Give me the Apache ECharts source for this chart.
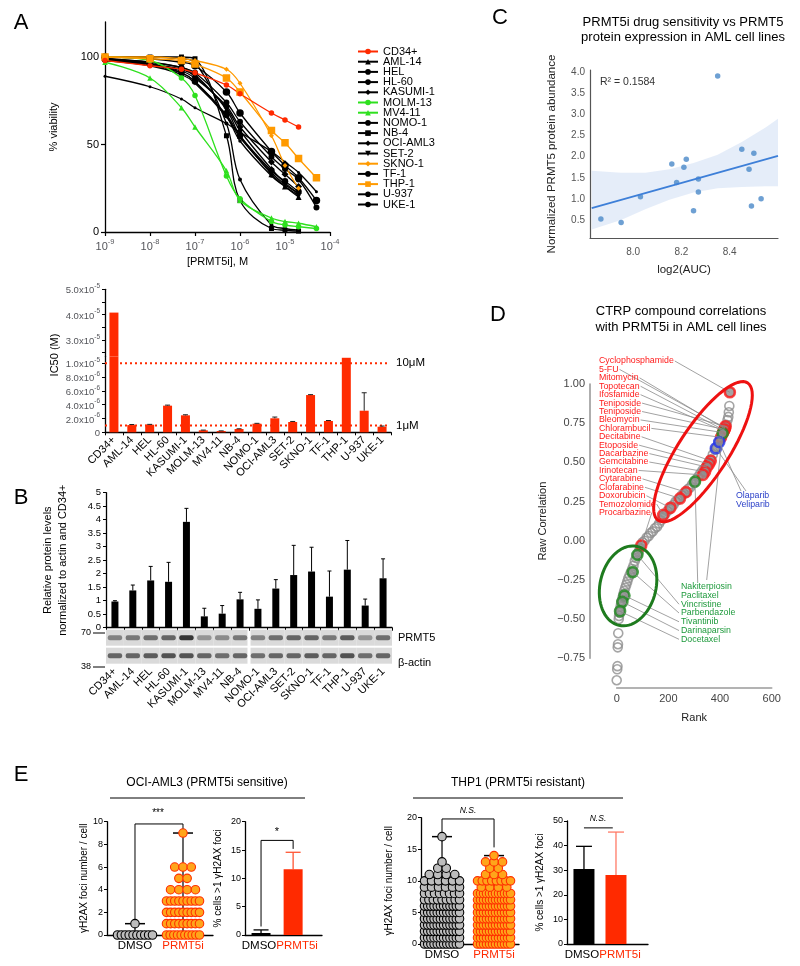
<!DOCTYPE html>
<html>
<head>
<meta charset="utf-8">
<script src="https://cdn.jsdelivr.net/npm/echarts@6.0.0/dist/echarts.min.js"></script>
<style>
html,body{margin:0;padding:0;background:#fff;}
#chart{width:800px;height:966px;}
</style>
</head>
<body>
<div id="chart"></div>
<script>
const FONT = '"Liberation Sans", Arial, sans-serif';

// ---------------- Panel A : dose response ----------------
const concentrations = [1e-9, 1e-8, 5e-8, 1e-7, 5e-7, 1e-6, 5e-6, 1e-5, 2e-5, 5e-5];
const viabilityCD34 = [98, 95, 93, 91, 84, 79, 68, 64, 60];
const viabilityAML14 = [99, 97, 94, 90, 70, 55, 33, 26, 20];
const viabilityHEL = [89, 83, 76, 71, 62, 57, 46, 40, 34, 23];
const viabilityHL60 = [100, 99, 97, 95, 80, 68, 46, 38, 31, 18];
const viabilityKASUMI1 = [98, 96, 92, 88, 72, 60, 40, 33, 26];
const viabilityMOLM13 = [100, 98, 88, 78, 32, 19, 6, 4, 3, 2];
const viabilityMV411 = [97, 88, 71, 60, 35, 18, 8, 6, 5, 3];
const viabilityNOMO1 = [99, 96, 91, 86, 66, 52, 32, 26, 21];
const viabilityNB4 = [100, 100, 100, 99, 55, 18, 2, 1, 0.5];
const viabilityOCIAML3 = [98, 96, 93, 89, 71, 58, 36, 28, 22];
const viabilitySET2 = [98, 95, 90, 85, 66, 54, 34, 27, 22];
const viabilitySKNO1 = [100, 100, 99, 98, 93, 85, 55, 38, 25];
const viabilityTF1 = [99, 96, 91, 86, 67, 55, 35, 29, 23];
const viabilityTHP1 = [100, 99, 98, 96, 88, 80, 58, 51, 42, 31];
const viabilityU937 = [99, 97, 94, 91, 74, 63, 43, 36, 30, 14];
const viabilityUKE1 = [100, 100, 99, 97, 62, 30, 4, 2, 1];
const legendOrder = ['CD34+','AML-14','HEL','HL-60','KASUMI-1','MOLM-13','MV4-11','NOMO-1','NB-4','OCI-AML3','SET-2','SKNO-1','TF-1','THP-1','U-937','UKE-1'];

// ---------------- Panel A : IC50 bars ----------------
const cellLines = ['CD34+','AML-14','HEL','HL-60','KASUMI-1','MOLM-13','MV4-11','NB-4','NOMO-1','OCI-AML3','SET-2','SKNO-1','TF-1','THP-1','U-937','UKE-1'];
const ic50Values = [4.08e-5, 1.05e-6, 1.1e-6, 3.86e-6, 2.46e-6, 0.29e-6, 0.19e-6, 0.48e-6, 1.25e-6, 2.03e-6, 1.49e-6, 5.4e-6, 1.64e-6, 1.08e-5, 3.13e-6, 0.81e-6];
const ic50Err = [0, 0.08e-6, 0.05e-6, 0.08e-6, 0.08e-6, 0.03e-6, 0.02e-6, 0.03e-6, 0.05e-6, 0.18e-6, 0.08e-6, 0.06e-6, 0.07e-6, 0, 2.6e-6, 0.1e-6];
const ic50Thresholds = [1e-5, 1e-6];
const ic50ThresholdLabels = ['10μM', '1μM'];
const ic50TopTicks = [2.5e-5, 3e-5, 3.5e-5, 4e-5, 4.5e-5, 5e-5];
const ic50TopLabels = [3e-5, 4e-5, 5e-5];
const ic50BottomTicks = [0, 2e-6, 4e-6, 6e-6, 8e-6, 1e-5];

// ---------------- Panel B ----------------
const proteinLevel = [0.97, 1.38, 1.75, 1.70, 3.92, 0.42, 0.52, 1.05, 0.70, 1.45, 1.95, 2.08, 1.15, 2.15, 0.82, 1.83];
const proteinErr = [0.03, 0.20, 0.52, 0.72, 0.50, 0.30, 0.30, 0.26, 0.33, 0.33, 1.10, 0.90, 0.95, 1.08, 0.24, 0.72];
const prmt5Band = [0.45, 0.5, 0.55, 0.6, 0.85, 0.35, 0.4, 0.5, 0.45, 0.55, 0.6, 0.6, 0.5, 0.65, 0.35, 0.55];
const actinBand = [0.6, 0.6, 0.65, 0.7, 0.7, 0.6, 0.55, 0.6, 0.55, 0.6, 0.6, 0.65, 0.6, 0.7, 0.55, 0.6];

// ---------------- Panel C ----------------
const log2AUC = [7.866, 7.95, 8.03, 8.16, 8.18, 8.21, 8.22, 8.25, 8.27, 8.27, 8.35, 8.45, 8.48, 8.49, 8.50, 8.53];
const prmt5Abundance = [0.52, 0.44, 1.05, 1.83, 1.39, 1.75, 1.94, 0.72, 1.16, 1.47, 3.92, 2.18, 1.70, 0.83, 2.08, 1.00];
const fitX = [7.828, 8.60];
const fitY = [0.78, 2.02];
const ciX = [7.828, 7.95, 8.05, 8.15, 8.25, 8.35, 8.45, 8.55, 8.60];
const ciUpper = [1.67, 1.62, 1.62, 1.70, 1.85, 2.05, 2.35, 2.70, 2.90];
const ciLower = [0.27, 0.50, 0.75, 0.98, 1.15, 1.25, 1.28, 1.30, 1.30];
const cYTicks = [0.5, 1.0, 1.5, 2.0, 2.5, 3.0, 3.5, 4.0];
const cXTicks = [8.0, 8.2, 8.4];

// ---------------- Panel D ----------------
const grayRank = [0,2,3,4,5,6,8,9,11,13,15,17,20,23,26,29,33,37,41,45,50,55,60,65,70,75,80,85,90,95,100,108,116,124,132,140,148,156,164,172,180,188,196,204,212,220,228,236,244,252,260,268,276,284,292,300,308,316,324,332,340,348,356,364,372,380,388,396,402,408,414,420,425,429,432,434,436,438];
const grayCorr = [-0.89,-0.82,-0.80,-0.68,-0.66,-0.59,-0.50,-0.48,-0.46,-0.44,-0.42,-0.40,-0.38,-0.36,-0.34,-0.32,-0.30,-0.28,-0.26,-0.24,-0.22,-0.20,-0.18,-0.16,-0.13,-0.11,-0.09,-0.07,-0.05,-0.03,-0.01,0.00,0.02,0.03,0.05,0.06,0.08,0.09,0.11,0.13,0.15,0.17,0.19,0.20,0.22,0.23,0.25,0.26,0.27,0.29,0.30,0.31,0.33,0.34,0.36,0.37,0.39,0.41,0.43,0.45,0.46,0.48,0.50,0.52,0.55,0.58,0.60,0.63,0.65,0.67,0.70,0.72,0.74,0.77,0.79,0.82,0.86,0.947];
const redHitNames = ['Cyclophosphamide','5-FU','Mitomycin','Topotecan','Ifosfamide','Teniposide','Teniposide','Bleomycin','Chlorambucil','Decitabine','Etoposide','Dacarbazine','Gemcitabine','Irinotecan','Cytarabine','Clofarabine','Doxorubicin','Temozolomide','Procarbazine'];
const redHitRanks = [438, 420, 418, 416, 414, 421, 417, 412, 404, 364, 358, 350, 342, 334, 268, 245, 208, 180, 95];
const redHitCorrs = [0.947, 0.72, 0.715, 0.705, 0.70, 0.73, 0.71, 0.69, 0.66, 0.51, 0.49, 0.47, 0.44, 0.42, 0.31, 0.27, 0.21, 0.165, -0.03];
const greenHitNames = ['Nakiterpiosin','Paclitaxel','Vincristine','Parbendazole','Tivantinib','Darinaparsin','Docetaxel'];
const greenHitRanks = [410, 303, 80, 62, 30, 22, 13];
const greenHitCorrs = [0.685, 0.377, -0.09, -0.20, -0.35, -0.39, -0.45];
const blueHitNames = ['Olaparib','Veliparib'];
const blueHitRanks = [384, 397];
const blueHitCorrs = [0.59, 0.63];

// ---------------- Panel E ----------------
const ociDmsoFociValues = [0, 1];
const ociDmsoFociCounts = [10, 1];
const ociPrmtFociValues = [0, 1, 2, 3, 4, 5, 6, 9];
const ociPrmtFociCounts = [10, 9, 9, 9, 4, 2, 3, 1];
const thpDmsoFociValues = [0,1,2,3,4,5,6,7,8,9,10,11,12,13,17];
const thpDmsoFociCounts = [12,12,12,12,12,12,12,9,8,6,6,4,2,1,1];
const thpPrmtFociValues = [0,1,2,3,4,5,6,7,8,9,10,11,12,13,14];
const thpPrmtFociCounts = [12,12,12,12,12,12,12,12,12,4,8,3,2,3,1];
const ociPctMeans = [0.35, 11.6];
const ociPctErr = [0.55, 3.0];
const thpPctMeans = [30.5, 28.0];
const thpPctErr = [9.2, 17.5];

// ================= helpers =================
const RED = '#ff2a00', GREEN = '#2ee01e', ORANGE = '#ff9a00', BLACK = '#000';
const curveStyle = {
  'CD34+': [RED, 'circle', 5.5], 'AML-14': [BLACK, 'triangle', 6], 'HEL': [BLACK, 'circle', 3],
  'HL-60': [BLACK, 'circle', 7.5], 'KASUMI-1': [BLACK, 'diamond', 7], 'MOLM-13': [GREEN, 'circle', 5.5],
  'MV4-11': [GREEN, 'triangle', 5.5], 'NOMO-1': [BLACK, 'circle', 3.5], 'NB-4': [BLACK, 'rect', 5],
  'OCI-AML3': [BLACK, 'diamond', 6], 'SET-2': [BLACK, 'path://M0,0L10,0L5,9Z', 4.5], 'SKNO-1': [ORANGE, 'diamond', 5],
  'TF-1': [BLACK, 'circle', 6.5], 'THP-1': [ORANGE, 'rect', 7.5], 'U-937': [BLACK, 'circle', 6], 'UKE-1': [BLACK, 'circle', 4]
};
const viabilityByLine = {
  'CD34+': viabilityCD34, 'AML-14': viabilityAML14, 'HEL': viabilityHEL, 'HL-60': viabilityHL60,
  'KASUMI-1': viabilityKASUMI1, 'MOLM-13': viabilityMOLM13, 'MV4-11': viabilityMV411, 'NOMO-1': viabilityNOMO1,
  'NB-4': viabilityNB4, 'OCI-AML3': viabilityOCIAML3, 'SET-2': viabilitySET2, 'SKNO-1': viabilitySKNO1,
  'TF-1': viabilityTF1, 'THP-1': viabilityTHP1, 'U-937': viabilityU937, 'UKE-1': viabilityUKE1
};
const drawOrder = ['AML-14','HEL','HL-60','KASUMI-1','NOMO-1','NB-4','OCI-AML3','SET-2','TF-1','U-937','UKE-1','MOLM-13','MV4-11','SKNO-1','THP-1','CD34+'];

function sci(v) {
  if (v === 0) return '{n|0}';
  const e = Math.floor(Math.log10(v) + 1e-9);
  const m = v / Math.pow(10, e);
  return '{n|' + m.toFixed(1) + 'x10}{s|' + e + '}';
}
const sciRich = { n: { fontSize: 9.5, lineHeight: 13, verticalAlign: 'bottom', fontFamily: FONT }, s: { fontSize: 6.5, lineHeight: 6.5, verticalAlign: 'top', fontFamily: FONT } };

function errorBarItem(capW, lw) {
  return function (params, api) {
    const x = api.value(0);
    const lo = api.coord([x, api.value(1)]);
    const hi = api.coord([x, api.value(2)]);
    const color = api.visual('color');
    if (api.value(2) <= api.value(1)) return { type: 'group', children: [] };
    return { type: 'group', children: [
      { type: 'line', shape: { x1: lo[0], y1: lo[1], x2: hi[0], y2: hi[1] }, style: { stroke: color, lineWidth: lw } },
      { type: 'line', shape: { x1: hi[0] - capW / 2, y1: hi[1], x2: hi[0] + capW / 2, y2: hi[1] }, style: { stroke: color, lineWidth: lw } }
    ] };
  };
}
function swarmItem(fill, stroke, maxWidth, maxStep, size) {
  return function (params, api) {
    const g = api.value(0), v = api.value(1), n = api.value(2);
    const p = api.coord([g, v]);
    const step = n > 1 ? Math.min(maxStep, maxWidth / (n - 1)) : 0;
    const children = [];
    for (let j = 0; j < n; j++) {
      children.push({ type: 'circle', shape: { cx: p[0] + (j - (n - 1) / 2) * step, cy: p[1], r: size / 2 }, style: { fill: fill, stroke: stroke, lineWidth: 1.1 } });
    }
    return { type: 'group', children: children };
  };
}
function rangeItem(capW, medW) {
  return function (params, api) {
    const g = api.value(0);
    const a = api.coord([g, api.value(1)]);
    const b = api.coord([g, api.value(2)]);
    const m = api.coord([g, api.value(3)]);
    return { type: 'group', children: [
      { type: 'line', shape: { x1: a[0], y1: a[1], x2: b[0], y2: b[1] }, style: { stroke: '#000', lineWidth: 1.2 } },
      { type: 'line', shape: { x1: b[0] - capW / 2, y1: b[1], x2: b[0] + capW / 2, y2: b[1] }, style: { stroke: '#000', lineWidth: 1.5 } },
      { type: 'line', shape: { x1: m[0] - medW / 2, y1: m[1], x2: m[0] + medW / 2, y2: m[1] }, style: { stroke: '#000', lineWidth: 2.5 } }
    ] };
  };
}
const measureCtx = document.createElement('canvas').getContext('2d');
function textWidth(t, size) { measureCtx.font = size + 'px "Liberation Sans", Arial, sans-serif'; return measureCtx.measureText(t).width; }

function txt(x, y, text, size, extra) {
  const st = Object.assign({ text: text, fontSize: size, fontFamily: FONT, fill: '#000', align: 'left', verticalAlign: 'middle', textVerticalAlign: 'middle' }, extra || {});
  st.textAlign = st.align;
  return { type: 'text', x: x, y: y, silent: true, style: st };
}

// ================= series =================
const series = [];

// A curves
drawOrder.forEach(function (name) {
  const st = curveStyle[name];
  const vals = viabilityByLine[name];
  series.push({
    type: 'line', name: name, xAxisIndex: 0, yAxisIndex: 0,
    data: vals.map(function (v, i) { return [concentrations[i], v]; }),
    smooth: 0.35, symbol: st[1], symbolSize: st[2], showSymbol: true,
    lineStyle: { color: st[0], width: 1.3 }, itemStyle: { color: st[0] }, z: 3
  });
});

// A IC50 bars (broken axis: top + bottom)
const topMin = 2.35e-5;
series.push({
  type: 'bar', xAxisIndex: 1, yAxisIndex: 1, barWidth: 9,
  data: ic50Values.map(function (v) { return v > topMin ? v : '-'; }),
  itemStyle: { color: RED }
});
series.push({
  type: 'custom', xAxisIndex: 2, yAxisIndex: 2, clip: false, silent: true, z: 2,
  data: ic50Thresholds.map(function (v, i) { return [0, v, i]; }),
  renderItem: function (params, api) {
    const a = api.coord([0, api.value(1)]);
    const b = api.coord([cellLines.length - 1, api.value(1)]);
    const bw = api.size([1, 0])[0];
    const x1 = a[0] - bw / 2, x2 = b[0] + bw / 2 - 4;
    return { type: 'group', children: [
      { type: 'line', shape: { x1: x1, y1: a[1], x2: x2, y2: a[1] }, style: { stroke: RED, lineWidth: 2, lineDash: [2, 3] } },
      { type: 'text', x: x2 + 9, y: a[1], style: { text: ic50ThresholdLabels[params.dataIndex], fontSize: 11.5, fontFamily: FONT, fill: '#000', align: 'left', textAlign: 'left', verticalAlign: 'middle', textVerticalAlign: 'middle' } }
    ] };
  }
});
series.push({ type: 'bar', xAxisIndex: 2, yAxisIndex: 2, barWidth: 9, data: ic50Values, itemStyle: { color: RED }, z: 3 });
series.push({
  type: 'custom', xAxisIndex: 2, yAxisIndex: 2, renderItem: errorBarItem(5, 1), itemStyle: { color: '#222' }, z: 4,
  data: ic50Values.map(function (v, i) { return [i, v, v + ic50Err[i]]; })
});

// B bars
series.push({ type: 'bar', xAxisIndex: 3, yAxisIndex: 3, barWidth: 7, data: proteinLevel, itemStyle: { color: '#000' } });
series.push({
  type: 'custom', xAxisIndex: 3, yAxisIndex: 3, renderItem: errorBarItem(4, 1), itemStyle: { color: '#000' },
  data: proteinLevel.map(function (v, i) { return [i, v, v + proteinErr[i]]; })
});
series.push({
  type: 'custom', xAxisIndex: 3, yAxisIndex: 3, clip: false, silent: true,
  data: cellLines.map(function (c, i) { return [i, prmt5Band[i], actinBand[i]]; }),
  renderItem: function (params, api) {
    const i = api.value(0);
    const base = api.coord([i, 0]);
    const bw = api.size([1, 0])[0];
    let l = base[0] - bw / 2, r = base[0] + bw / 2;
    if (i === 7) r -= 1.5;
    if (i === 8) l += 1.5;
    const rows = [[base[1] + 2, base[1] + 18, api.value(1)], [base[1] + 20, base[1] + 36, api.value(2)]];
    const ch = [];
    rows.forEach(function (row) {
      ch.push({ type: 'rect', shape: { x: l, y: row[0], width: r - l, height: row[1] - row[0] }, style: { fill: '#dadada' } });
      const g = Math.round(215 - row[2] * 190);
      const col = 'rgb(' + g + ',' + g + ',' + g + ')';
      ch.push({ type: 'rect', shape: { x: base[0] - bw * 0.4, y: (row[0] + row[1]) / 2 - 2.5, width: bw * 0.8, height: 5, r: 2 }, style: { fill: col } });
    });
    return { type: 'group', children: ch };
  }
});

// C
series.push({
  type: 'custom', xAxisIndex: 4, yAxisIndex: 4, silent: true, data: [[ciX[0], ciUpper[0]]],
  renderItem: function (params, api) {
    const pts = [];
    ciX.forEach(function (x, k) { pts.push(api.coord([x, ciUpper[k]])); });
    for (let k = ciX.length - 1; k >= 0; k--) pts.push(api.coord([ciX[k], ciLower[k]]));
    return { type: 'polygon', shape: { points: pts }, style: { fill: 'rgba(70,130,210,0.14)' } };
  }
});
series.push({ type: 'line', xAxisIndex: 4, yAxisIndex: 4, data: fitX.map(function (x, i) { return [x, fitY[i]]; }), symbol: 'none', lineStyle: { color: '#3d7fd8', width: 1.8 } });
series.push({ type: 'scatter', xAxisIndex: 4, yAxisIndex: 4, data: log2AUC.map(function (x, i) { return [x, prmt5Abundance[i]]; }), symbolSize: 5.5, itemStyle: { color: '#4a88c8' } });

// D
series.push({
  type: 'scatter', xAxisIndex: 5, yAxisIndex: 5, clip: false, symbolSize: 9, z: 2,
  data: grayRank.map(function (r, i) { return [r, grayCorr[i]]; }),
  itemStyle: { color: 'rgba(255,255,255,0)', borderColor: '#8e8e8e', borderWidth: 1.6 }
});
const dHits = [
  { ranks: redHitRanks, corrs: redHitCorrs, color: '#ff1a1a' },
  { ranks: greenHitRanks, corrs: greenHitCorrs, color: '#1f8a1f' },
  { ranks: blueHitRanks, corrs: blueHitCorrs, color: '#2233ee' }
];
dHits.forEach(function (h) {
  series.push({
    type: 'scatter', xAxisIndex: 5, yAxisIndex: 5, clip: false, symbolSize: 10, z: 3,
    data: h.ranks.map(function (r, i) { return [r, h.corrs[i]]; }),
    itemStyle: { color: '#8e8e8e', borderColor: h.color, borderWidth: 2.6 }
  });
});
const LBL = 8.8;
const redLabelX = 599, redLabelY0 = 361, redLabelStep = 8.42;
const greenLabelX = 681, greenLabelY0 = 586.7, greenLabelStep = 8.77;
const blueLabelX = 736, blueLabelY0 = 496, blueLabelStep = 8.3;
function labelSeries(names, ranks, corrs, color, lineStart, labelX, labelY0, step) {
  return {
    type: 'custom', xAxisIndex: 5, yAxisIndex: 5, clip: false, silent: true, z: 5,
    data: ranks.map(function (r, i) { return [r, corrs[i]]; }),
    renderItem: function (params, api) {
      const i = params.dataIndex;
      const p = api.coord([api.value(0), api.value(1)]);
      const ly = labelY0 + i * step;
      const s = lineStart(i, ly, textWidth(names[i], LBL));
      return { type: 'group', children: [
        { type: 'line', shape: { x1: s[0], y1: s[1], x2: p[0], y2: p[1] }, style: { stroke: '#8a8a8a', lineWidth: 0.8 } },
        { type: 'text', x: labelX, y: ly, style: { text: names[i], fill: color, fontSize: LBL, fontFamily: FONT, align: 'left', textAlign: 'left', verticalAlign: 'middle', textVerticalAlign: 'middle' } }
      ] };
    }
  };
}
series.push(labelSeries(redHitNames, redHitRanks, redHitCorrs, '#ff1a1a', function (i, ly, w) { return [redLabelX + w + 1, ly]; }, redLabelX, redLabelY0, redLabelStep));
series.push(labelSeries(greenHitNames, greenHitRanks, greenHitCorrs, '#1e9a3c', function (i, ly, w) {
  if (i === 0) return [706.7, 580];
  if (i === 1) return [697.7, 582];
  return [greenLabelX - 2, ly];
}, greenLabelX, greenLabelY0, greenLabelStep));
series.push(labelSeries(blueHitNames, blueHitRanks, blueHitCorrs, '#2a3fc8', function (i, ly, w) { return [746 - i * 5, 491]; }, blueLabelX, blueLabelY0, blueLabelStep));
const ellipseSpecs = [
  { rank: 334, corr: 0.568, rx: 82, ry: 25, angle: 57, color: '#ee1111' },
  { rank: 44, corr: -0.288, rx: 40.5, ry: 28, angle: 77, color: '#1e7b1e' }
];
series.push({
  type: 'custom', xAxisIndex: 5, yAxisIndex: 5, clip: false, silent: true, z: 6,
  data: ellipseSpecs.map(function (e) { return [e.rank, e.corr]; }),
  renderItem: function (params, api) {
    const e = ellipseSpecs[params.dataIndex];
    const c = api.coord([api.value(0), api.value(1)]);
    const a = e.angle * Math.PI / 180;
    const pts = [];
    for (let k = 0; k < 72; k++) {
      const t = k / 72 * Math.PI * 2;
      const dx = e.rx * Math.cos(t), dy = e.ry * Math.sin(t);
      pts.push([c[0] + dx * Math.cos(a) - dy * Math.sin(a), c[1] - (dx * Math.sin(a) + dy * Math.cos(a))]);
    }
    return { type: 'polygon', shape: { points: pts }, style: { fill: 'none', stroke: e.color, lineWidth: 3 } };
  }
});

// E1 OCI-AML3 dot plot
series.push({ type: 'custom', xAxisIndex: 6, yAxisIndex: 6, clip: false, renderItem: rangeItem(20, 36), data: [[0, 0, 1, 0], [1, 0, 9, 0]], z: 2 });
series.push({ type: 'custom', xAxisIndex: 6, yAxisIndex: 6, clip: false, renderItem: swarmItem('#bdbdbd', '#000', 35, 8.5, 8.5), data: ociDmsoFociValues.map(function (v, i) { return [0, v, ociDmsoFociCounts[i]]; }), z: 3 });
series.push({ type: 'custom', xAxisIndex: 6, yAxisIndex: 6, clip: false, renderItem: swarmItem('#ffa51a', '#ff3000', 33, 8.3, 8.5), data: ociPrmtFociValues.map(function (v, i) { return [1, v, ociPrmtFociCounts[i]]; }), z: 3 });
series.push({ type: 'line', xAxisIndex: 6, yAxisIndex: 6, data: [[0, 1.3], [0, 9.8], [1, 9.8], [1, 9.4]], symbol: 'none', lineStyle: { color: '#000', width: 1 }, z: 4 });
// E2 OCI-AML3 bars
series.push({ type: 'bar', xAxisIndex: 7, yAxisIndex: 7, barWidth: 19, data: [{ value: [0, ociPctMeans[0]], itemStyle: { color: '#000' } }, { value: [1, ociPctMeans[1]], itemStyle: { color: RED } }] });
series.push({ type: 'custom', xAxisIndex: 7, yAxisIndex: 7, renderItem: errorBarItem(15, 1.3), data: [{ value: [0, ociPctMeans[0], ociPctMeans[0] + ociPctErr[0]], itemStyle: { color: '#000' } }, { value: [1, ociPctMeans[1], ociPctMeans[1] + ociPctErr[1]], itemStyle: { color: '#ff5533' } }] });
series.push({ type: 'line', xAxisIndex: 7, yAxisIndex: 7, data: [[0, 1.5], [0, 16.7], [1, 16.7], [1, 15.2]], symbol: 'none', lineStyle: { color: '#000', width: 1 } });
// E3 THP1 dot plot
series.push({ type: 'custom', xAxisIndex: 8, yAxisIndex: 8, clip: false, renderItem: rangeItem(20, 36), data: [[0, 0, 17, 0], [1, 0, 14, 0]], z: 2 });
series.push({ type: 'custom', xAxisIndex: 8, yAxisIndex: 8, clip: false, renderItem: swarmItem('#bdbdbd', '#000', 35, 8.5, 8.5), data: thpDmsoFociValues.map(function (v, i) { return [0, v, thpDmsoFociCounts[i]]; }), z: 3 });
series.push({ type: 'custom', xAxisIndex: 8, yAxisIndex: 8, clip: false, renderItem: swarmItem('#ffa51a', '#ff3000', 33, 8.5, 8.5), data: thpPrmtFociValues.map(function (v, i) { return [1, v, thpPrmtFociCounts[i]]; }), z: 3 });
series.push({ type: 'line', xAxisIndex: 8, yAxisIndex: 8, data: [[0, 17.6], [0, 19.8], [1, 19.8], [1, 15.3]], symbol: 'none', lineStyle: { color: '#000', width: 1 }, z: 4 });
// E4 THP1 bars
series.push({ type: 'bar', xAxisIndex: 9, yAxisIndex: 9, barWidth: 21, data: [{ value: [0, thpPctMeans[0]], itemStyle: { color: '#000' } }, { value: [1, thpPctMeans[1]], itemStyle: { color: RED } }] });
series.push({ type: 'custom', xAxisIndex: 9, yAxisIndex: 9, renderItem: errorBarItem(16, 1.3), data: [{ value: [0, thpPctMeans[0], thpPctMeans[0] + thpPctErr[0]], itemStyle: { color: '#000' } }, { value: [1, thpPctMeans[1], thpPctMeans[1] + thpPctErr[1]], itemStyle: { color: '#ff7a66' } }] });
series.push({ type: 'line', xAxisIndex: 9, yAxisIndex: 9, data: [[0, 47.2], [0.9, 47.2]], symbol: 'none', lineStyle: { color: '#000', width: 1 } });

// ================= axes =================
const blackLine = { show: true, onZero: false, lineStyle: { color: '#000', width: 1.3 } };
const tickOut = { show: true, length: 4, lineStyle: { color: '#000', width: 1.2 } };
const noSplit = { show: false };
function eXAxis(grid, min, max, shift) {
  return {
    gridIndex: grid, type: 'value', min: min, max: max, axisLine: blackLine, axisTick: { show: false }, splitLine: noSplit,
    axisLabel: { customValues: [0, 1], margin: 5, hideOverlap: false, showMinLabel: true, showMaxLabel: true,
      formatter: function (v) { return v < 0.5 ? '{k|DMSO}' : '{r|PRMT5i}'; },
      rich: { k: { color: '#000', fontSize: 11.5, fontFamily: FONT, padding: [0, shift, 0, 0] }, r: { color: RED, fontSize: 11.5, fontFamily: FONT, padding: [0, 0, 0, shift * 2] } } }
  };
}
function eYAxis(grid, max, interval, name, gap) {
  return {
    gridIndex: grid, type: 'value', min: 0, max: max, interval: interval, axisLine: blackLine, axisTick: { show: true, length: 3, lineStyle: { color: '#000' } }, splitLine: noSplit,
    axisLabel: { fontSize: 9, color: '#000', margin: 4 }, name: name, nameLocation: 'middle', nameGap: gap, nameRotate: 90,
    nameTextStyle: { fontSize: 10, color: '#000', fontFamily: FONT }
  };
}

const xAxis = [
  { gridIndex: 0, type: 'log', logBase: 10, min: 1e-9, max: 1e-4, axisLine: blackLine, axisTick: tickOut, splitLine: noSplit, minorTick: { show: false },
    axisLabel: { margin: 6, formatter: function (v) { return '{n|10}{s|' + Math.round(Math.log10(v)) + '}'; },
      rich: { n: { fontSize: 11, lineHeight: 14, verticalAlign: 'bottom', fontFamily: FONT }, s: { fontSize: 7.5, lineHeight: 7.5, verticalAlign: 'top', fontFamily: FONT } } },
    name: '[PRMT5i], M', nameLocation: 'middle', nameGap: 24, nameTextStyle: { fontSize: 11, fontFamily: FONT, color: '#000' } },
  { gridIndex: 1, type: 'category', data: cellLines, show: false },
  { gridIndex: 2, type: 'category', data: cellLines, axisLine: blackLine, axisTick: { show: true, length: 3, lineStyle: { color: '#000' } },
    axisLabel: { rotate: 45, interval: 0, fontSize: 11, color: '#000', margin: 6 } },
  { gridIndex: 3, type: 'category', data: cellLines, axisLine: blackLine, axisTick: { show: true, length: 3, lineStyle: { color: '#000' } },
    axisLabel: { rotate: 45, interval: 0, fontSize: 11, color: '#000', margin: 42 } },
  { gridIndex: 4, type: 'value', min: 7.821, max: 8.60, axisLine: { show: true, onZero: false, lineStyle: { color: '#555', width: 1.2 } }, axisTick: { show: false }, splitLine: noSplit,
    axisLabel: { customValues: cXTicks, formatter: function (v) { return v.toFixed(1); }, fontSize: 10, color: '#555', margin: 9 },
    name: 'log2(AUC)', nameLocation: 'middle', nameGap: 26, nameTextStyle: { fontSize: 11.5, color: '#222', fontFamily: FONT } },
  { gridIndex: 5, type: 'value', min: 0, max: 600, interval: 200, offset: 29.7, axisLine: { show: true, onZero: false, lineStyle: { color: '#9a9a9a', width: 1.6 } }, axisTick: { show: false }, splitLine: noSplit,
    axisLabel: { fontSize: 11, color: '#444', margin: 5 }, name: 'Rank', nameLocation: 'middle', nameGap: 24, nameTextStyle: { fontSize: 11, color: '#222', fontFamily: FONT } },
  eXAxis(6, -0.583, 1.625, 0),
  eXAxis(7, -0.5, 1.9, 4),
  eXAxis(8, -0.404, 1.48, 0),
  eXAxis(9, -0.53, 2.0, 4)
];
const yAxis = [
  { gridIndex: 0, type: 'value', min: 0, max: 120, axisLine: blackLine, axisTick: { show: true, length: 4, customValues: [0, 50, 100], lineStyle: { color: '#000', width: 1.2 } }, splitLine: noSplit,
    axisLabel: { customValues: [0, 50, 100], fontSize: 11, color: '#000', margin: 6 },
    name: '% viability', nameLocation: 'middle', nameGap: 46, nameRotate: 90, nameTextStyle: { fontSize: 11, color: '#000', fontFamily: FONT } },
  { gridIndex: 1, type: 'value', min: topMin, max: 5e-5, axisLine: blackLine, splitLine: noSplit,
    axisTick: { show: true, length: 3, customValues: ic50TopTicks, lineStyle: { color: '#000' } },
    axisLabel: { customValues: ic50TopLabels, formatter: sci, rich: sciRich, margin: 5 } },
  { gridIndex: 2, type: 'value', min: 0, max: 1.1e-5, axisLine: blackLine, splitLine: noSplit,
    axisTick: { show: true, length: 3, customValues: ic50BottomTicks, lineStyle: { color: '#000' } },
    axisLabel: { customValues: ic50BottomTicks, formatter: sci, rich: sciRich, margin: 5 } },
  { gridIndex: 3, type: 'value', min: 0, max: 5, interval: 0.5, axisLine: blackLine, splitLine: noSplit,
    axisTick: { show: true, length: 3, lineStyle: { color: '#000' } },
    axisLabel: { fontSize: 9.5, color: '#000', margin: 5 },
    name: 'Relative protein levels\nnormalized to actin and CD34+', nameLocation: 'middle', nameGap: 36, nameRotate: 90,
    nameTextStyle: { fontSize: 11, color: '#000', fontFamily: FONT, lineHeight: 15 } },
  { gridIndex: 4, type: 'value', min: 0.07, max: 4.06, axisLine: { show: true, onZero: false, lineStyle: { color: '#555', width: 1.2 } }, axisTick: { show: false }, splitLine: noSplit,
    axisLabel: { customValues: cYTicks, formatter: function (v) { return v.toFixed(1); }, fontSize: 10, color: '#555', margin: 5 },
    name: 'Normalized PRMT5 protein abundance', nameLocation: 'middle', nameGap: 32, nameRotate: 90, nameTextStyle: { fontSize: 11.5, color: '#222', fontFamily: FONT } },
  { gridIndex: 5, type: 'value', min: -0.75, max: 1.0, interval: 0.25, offset: 26.7, axisLine: { show: true, onZero: false, lineStyle: { color: '#9a9a9a', width: 1.6 } }, axisTick: { show: false }, splitLine: noSplit,
    axisLabel: { fontSize: 11, color: '#444', margin: 5, formatter: function (v) { return (v < 0 ? '\u2212' : '') + Math.abs(v).toFixed(2); } },
    name: 'Raw Correlation', nameLocation: 'middle', nameGap: 42, nameRotate: 90, nameTextStyle: { fontSize: 11, color: '#222', fontFamily: FONT } },
  eYAxis(6, 10, 2, 'γH2AX foci number / cell', 17),
  eYAxis(7, 20, 5, '% cells >1 γH2AX foci', 22),
  eYAxis(8, 20, 5, 'γH2AX foci number / cell', 27),
  eYAxis(9, 50, 10, '% cells >1 γH2AX foci', 22)
];
const grid = [
  { left: 105, top: 22, width: 225, height: 210 },
  { left: 105, top: 289.3, width: 286, height: 67.1 },
  { left: 105, top: 356.4, width: 286, height: 75.9 },
  { left: 106, top: 492.7, width: 286, height: 135 },
  { left: 590, top: 70, width: 188, height: 168 },
  { left: 616.7, top: 384, width: 155, height: 274.3 },
  { left: 107, top: 821.7, width: 106, height: 113.3 },
  { left: 245, top: 821.7, width: 77, height: 113.3 },
  { left: 421, top: 817.7, width: 98, height: 126.3 },
  { left: 567, top: 821, width: 81, height: 123 }
];

// ================= annotations =================
const graphics = [
  txt(21, 23, 'A', 22, { align: 'center' }),
  txt(21, 498, 'B', 22, { align: 'center' }),
  txt(500, 18, 'C', 22, { align: 'center' }),
  txt(498, 315, 'D', 22, { align: 'center' }),
  txt(21, 775, 'E', 22, { align: 'center' }),
  { type: 'text', x: 55, y: 355, rotation: Math.PI / 2, silent: true, style: { text: 'IC50 (M)', fontSize: 11, fontFamily: FONT, fill: '#000', align: 'center', textAlign: 'center', verticalAlign: 'middle', textVerticalAlign: 'middle' } },
  txt(91, 633, '70', 9, { align: 'right' }),
  { type: 'line', silent: true, shape: { x1: 93, y1: 633, x2: 105, y2: 633 }, style: { stroke: '#000', lineWidth: 1 } },
  txt(91, 667, '38', 9, { align: 'right' }),
  { type: 'line', silent: true, shape: { x1: 93, y1: 667, x2: 105, y2: 667 }, style: { stroke: '#000', lineWidth: 1 } },
  txt(398, 638, 'PRMT5', 11),
  txt(398, 663, 'β-actin', 11),
  txt(683, 22, 'PRMT5i drug sensitivity vs PRMT5', 13, { align: 'center' }),
  txt(683, 37, 'protein expression in AML cell lines', 13, { align: 'center' }),
  txt(600, 82, 'R² = 0.1584', 10.5, { fill: '#333' }),
  txt(681, 311, 'CTRP compound correlations', 13, { align: 'center' }),
  txt(681, 327, 'with PRMT5i in AML cell lines', 13, { align: 'center' }),
  txt(207, 783, 'OCI-AML3 (PRMT5i sensitive)', 12, { align: 'center' }),
  { type: 'line', silent: true, shape: { x1: 110, y1: 798, x2: 305, y2: 798 }, style: { stroke: '#000', lineWidth: 1 } },
  txt(518, 783, 'THP1 (PRMT5i resistant)', 12, { align: 'center' }),
  { type: 'line', silent: true, shape: { x1: 413, y1: 798, x2: 623, y2: 798 }, style: { stroke: '#000', lineWidth: 1 } },
  txt(158, 813, '***', 10, { align: 'center' }),
  txt(277, 832, '*', 11, { align: 'center' }),
  txt(468, 811, 'N.S.', 8.5, { align: 'center', fontStyle: 'italic' }),
  txt(598, 819, 'N.S.', 8.5, { align: 'center', fontStyle: 'italic' })
];

const chart = echarts.init(document.getElementById('chart'), null, { renderer: 'canvas' });
chart.setOption({
  animation: false,
  backgroundColor: '#fff',
  textStyle: { fontFamily: FONT },
  legend: {
    data: legendOrder, orient: 'vertical', left: 357, top: 46, padding: 0,
    itemWidth: 20, itemHeight: 7, itemGap: -0.8, selectedMode: false,
    textStyle: { fontSize: 11, fontFamily: FONT, color: '#000', lineHeight: 9.4, height: 9.4 }
  },
  grid: grid,
  xAxis: xAxis,
  yAxis: yAxis,
  series: series,
  graphic: { elements: graphics }
});
</script>
</body>
</html>
